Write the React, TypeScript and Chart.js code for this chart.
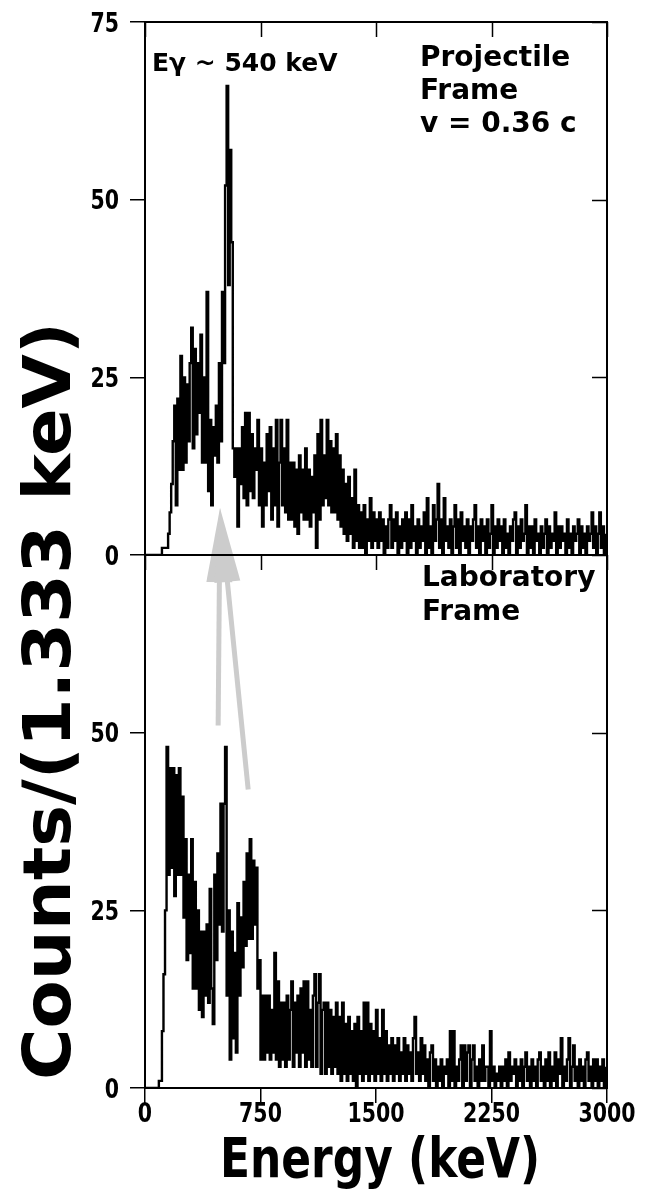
import React, { useEffect, useRef } from "react";
import { Chart, registerables } from "chart.js";

Chart.register(...registerables);

// ---------------- data ----------------
const BIN_KEV = 10; // spectrum sampled every 10 keV, starting at 0 keV
const X_TICKS = [0, 750, 1500, 2250, 3000];
const TOP_TICKS = [0, 25, 50, 75];
const BOT_TICKS = [0, 25, 50];

// Projectile frame (top panel), counts per bin, 0 .. 2990 keV
const projA = [
  0, 0, 0, 0, 0, 0, 0, 0, 0, 0,
  0, 1, 1, 1, 1, 3, 6, 10, 16, 21,
  7, 22, 12, 28, 12, 25, 13, 24, 16, 27,
  32, 15, 29, 17, 27, 20, 31, 13, 25, 13,
  37, 9, 19, 7, 18, 14, 21, 13, 27, 16,
];
const projB = [
  37, 27, 52, 66, 38, 57, 44, 15, 11, 15,
  4, 15, 10, 18, 8, 20, 7, 20, 9, 17,
  8, 15, 12, 19, 7, 15, 4, 13, 7, 17,
  9, 18, 5, 15, 7, 19, 4, 13, 19, 7,
  15, 6, 19, 5, 13, 5, 13, 4, 12, 3,
];
const projC = [
  14, 6, 12, 5, 15, 5, 12, 4, 11, 6,
  14, 1, 17, 5, 19, 7, 14, 8, 19, 7,
  16, 6, 15, 6, 17, 5, 14, 4, 12, 3,
  10, 2, 11, 3, 8, 1, 12, 2, 7, 1,
  6, 1, 7, 0, 5, 2, 8, 1, 6, 2,
];
const projD = [
  5, 1, 6, 2, 5, 0, 4, 1, 5, 7,
  1, 5, 2, 6, 0, 4, 1, 5, 2, 6,
  0, 5, 1, 7, 2, 4, 0, 5, 1, 4,
  2, 6, 0, 8, 1, 4, 0, 7, 2, 5,
  10, 1, 5, 0, 8, 2, 4, 1, 5, 0,
];
const projE = [
  4, 7, 1, 5, 0, 6, 2, 4, 1, 5,
  0, 4, 2, 5, 7, 1, 4, 0, 5, 2,
  4, 0, 5, 1, 3, 7, 0, 4, 1, 5,
  2, 4, 0, 5, 1, 3, 0, 4, 2, 5,
  6, 0, 4, 1, 5, 2, 3, 7, 0, 4,
];
const projF = [
  1, 4, 0, 5, 2, 3, 0, 4, 1, 3,
  5, 0, 4, 1, 3, 2, 6, 0, 4, 1,
  4, 2, 3, 0, 5, 1, 3, 0, 4, 2,
  3, 5, 0, 4, 1, 3, 0, 4, 2, 3,
  6, 1, 4, 0, 3, 6, 1, 4, 0, 3,
];

// Laboratory frame (bottom panel), counts per bin, 0 .. 2990 keV
const labA = [
  0, 0, 0, 0, 0, 0, 0, 0, 0, 1,
  1, 8, 16, 25, 48, 30, 45, 31, 45, 27,
  44, 30, 45, 30, 41, 24, 35, 18, 30, 19,
  35, 14, 29, 14, 25, 11, 22, 10, 22, 13,
  23, 12, 28, 14, 9, 30, 18, 33, 23, 40,
];
const labB = [
  22, 40, 48, 13, 25, 4, 22, 7, 19, 5,
  26, 13, 24, 17, 29, 20, 33, 21, 35, 21,
  32, 23, 31, 14, 18, 4, 13, 4, 13, 5,
  13, 4, 11, 5, 19, 4, 15, 3, 12, 4,
  12, 3, 13, 4, 11, 15, 3, 12, 5, 13,
];
const labC = [
  3, 14, 5, 15, 3, 15, 4, 11, 3, 13,
  16, 3, 12, 16, 2, 11, 12, 2, 12, 3,
  11, 2, 10, 3, 12, 2, 10, 1, 12, 2,
  9, 1, 10, 2, 8, 1, 9, 0, 10, 2,
  8, 1, 12, 2, 12, 1, 9, 2, 8, 1,
];
const labD = [
  11, 2, 7, 1, 11, 2, 8, 1, 6, 2,
  7, 1, 6, 2, 7, 1, 5, 2, 7, 1,
  6, 2, 5, 1, 7, 10, 2, 5, 1, 7,
  2, 6, 1, 4, 0, 5, 6, 1, 4, 0,
  3, 1, 4, 0, 3, 2, 4, 0, 8, 1,
];
const labE = [
  8, 0, 3, 1, 4, 6, 0, 6, 1, 5,
  6, 0, 4, 6, 1, 3, 0, 4, 1, 6,
  1, 3, 3, 0, 8, 1, 3, 0, 2, 1,
  3, 0, 3, 1, 4, 0, 5, 1, 3, 2,
  4, 0, 3, 1, 4, 0, 3, 5, 1, 3,
];
const labF = [
  0, 4, 1, 3, 0, 4, 5, 1, 3, 0,
  4, 1, 5, 0, 3, 1, 5, 0, 4, 2,
  7, 0, 3, 1, 4, 7, 0, 3, 6, 1,
  3, 0, 4, 1, 3, 0, 4, 5, 1, 3,
  0, 4, 1, 4, 0, 3, 1, 4, 0, 3,
];

// arrows: common tip in projectile panel, tails in laboratory panel (keV, counts)
const ARROW_TIP = { x: 487, y: 6.6 };
const ARROW_TAILS = [
  { x: 475, y: 51 },
  { x: 670, y: 42 },
];

const PEAK_LABEL = "E\u03b3 ~ 540 keV";
const PROJ_LABEL = ["Projectile", "Frame", "v = 0.36 c"];
const LAB_LABEL = ["Laboratory", "Frame"];
const X_TITLE = "Energy (keV)";
const Y_TITLE = "Counts/(1.333 keV)";

// ---------------- helpers ----------------
const FONT = '"DejaVu Sans", Verdana, sans-serif';
const projectile = [...projA, ...projB, ...projC, ...projD, ...projE, ...projF];
const laboratory = [...labA, ...labB, ...labC, ...labD, ...labE, ...labF];
const toPoints = (vals: number[]) => vals.map((v, i) => ({ x: i * BIN_KEV, y: v }));

const TICK_SIZE = 20.5;
const TICK_STRETCH = 1.3;
const CAP = 0.729;

function drawArrow(ctx: CanvasRenderingContext2D, x0: number, y0: number, x1: number, y1: number) {
  const headLen = 74;
  const half = 13;
  const ang = Math.atan2(y1 - y0, x1 - x0);
  const c = Math.cos(ang), s = Math.sin(ang);
  const bx = x1 - headLen * c, by = y1 - headLen * s;
  ctx.beginPath();
  ctx.moveTo(x0, y0);
  ctx.lineTo(x1 - (headLen - 10) * c, y1 - (headLen - 10) * s);
  ctx.stroke();
  ctx.beginPath();
  ctx.moveTo(x1, y1);
  ctx.lineTo(bx + half * s, by - half * c);
  ctx.lineTo(bx - half * s, by + half * c);
  ctx.closePath();
  ctx.fill();
}

function stretchedText(ctx: CanvasRenderingContext2D, text: string, x: number, y: number, sx: number, sy: number) {
  ctx.save();
  ctx.translate(x, y);
  ctx.scale(sx, sy);
  ctx.fillText(text, 0, 0);
  ctx.restore();
}

const panelPlugin = {
  id: "panelPlugin",
  beforeDatasetsDraw(chart: any) {
    const ctx: CanvasRenderingContext2D = chart.ctx;
    const xs = chart.scales.x, yt = chart.scales.yTop, yb = chart.scales.yBot;
    ctx.save();
    ctx.strokeStyle = "#cccccc";
    ctx.fillStyle = "#cccccc";
    ctx.lineWidth = 5;
    ctx.lineCap = "butt";
    const tx = xs.getPixelForValue(ARROW_TIP.x);
    const ty = yt.getPixelForValue(ARROW_TIP.y);
    ARROW_TAILS.forEach((t) => {
      drawArrow(ctx, xs.getPixelForValue(t.x), yb.getPixelForValue(t.y), tx, ty);
    });
    ctx.restore();
  },
  afterDraw(chart: any) {
    const ctx: CanvasRenderingContext2D = chart.ctx;
    const xs = chart.scales.x;
    const area = chart.chartArea;
    ctx.save();
    ctx.strokeStyle = "#000";
    ctx.fillStyle = "#000";
    // frames, inner ticks, tick labels
    ctx.font = `bold ${TICK_SIZE}px ${FONT}`;
    const capH = CAP * TICK_SIZE * TICK_STRETCH;
    ["yTop", "yBot"].forEach((id) => {
      const ys = chart.scales[id];
      ctx.lineWidth = 2;
      ctx.strokeRect(area.left, ys.top, area.right - area.left, ys.bottom - ys.top);
      ctx.lineWidth = 1.5;
      ctx.beginPath();
      xs.ticks.forEach((t: any) => {
        const px = Math.round(xs.getPixelForValue(t.value)) + 0.5;
        ctx.moveTo(px, ys.top);
        ctx.lineTo(px, ys.top + 15);
      });
      ys.ticks.forEach((t: any) => {
        const py = Math.round(ys.getPixelForValue(t.value)) + 0.5;
        ctx.moveTo(area.right - 15, py);
        ctx.lineTo(area.right, py);
      });
      ctx.stroke();
      ctx.textAlign = "right";
      ctx.textBaseline = "alphabetic";
      ys.ticks.forEach((t: any) => {
        const py = ys.getPixelForValue(t.value);
        stretchedText(ctx, String(t.value), area.left - 26, py + capH / 2, 1, TICK_STRETCH);
      });
    });
    ctx.textAlign = "center";
    xs.ticks.forEach((t: any) => {
      const px = xs.getPixelForValue(t.value);
      stretchedText(ctx, String(t.value), px, area.bottom + 15 + capH, 1, TICK_STRETCH);
    });

    // annotations
    const yt = chart.scales.yTop, yb = chart.scales.yBot;
    ctx.textAlign = "left";
    ctx.textBaseline = "alphabetic";
    ctx.font = `bold 25px ${FONT}`;
    ctx.fillText(PEAK_LABEL, area.left + 7, yt.top + 49);
    ctx.font = `bold 28px ${FONT}`;
    PROJ_LABEL.forEach((t, i) => ctx.fillText(t, area.left + 275, yt.top + 44 + i * 33));
    LAB_LABEL.forEach((t, i) => ctx.fillText(t, area.left + 277, yb.top + 31 + i * 34));

    // axis titles
    ctx.textAlign = "center";
    ctx.font = `bold 43px ${FONT}`;
    const xw = ctx.measureText(X_TITLE).width;
    stretchedText(ctx, X_TITLE, (area.left + area.right) / 2 + 4, 1177, 320 / xw, 1.3);
    ctx.save();
    ctx.translate(70, 701);
    ctx.rotate(-Math.PI / 2);
    ctx.font = `bold 66px ${FONT}`;
    const yw = ctx.measureText(Y_TITLE).width;
    ctx.scale(758 / yw, 1);
    ctx.fillText(Y_TITLE, 0, 0);
    ctx.restore();
    ctx.restore();
  },
};

const gridOpts = { drawOnChartArea: false, drawTicks: true, tickLength: 15, color: "#000", lineWidth: 1.5 };
const borderOpts = { display: true, color: "#000", width: 2 };

function yScale(ticks: number[]) {
  return {
    type: "linear" as const,
    position: "left" as const,
    stack: "panels",
    stackWeight: 1,
    min: 0,
    max: 75,
    afterBuildTicks: (s: any) => {
      s.ticks = ticks.map((v) => ({ value: v }));
    },
    afterFit: (s: any) => {
      s.width = 145;
    },
    ticks: { display: false },
    grid: gridOpts,
    border: borderOpts,
  };
}

export default function App() {
  const ref = useRef<HTMLCanvasElement | null>(null);
  useEffect(() => {
    if (!ref.current) return;
    const chart = new Chart(ref.current, {
      type: "line",
      data: {
        datasets: [
          {
            label: "Projectile frame",
            data: toPoints(projectile),
            xAxisID: "x",
            yAxisID: "yTop",
            borderColor: "#000",
            borderWidth: 2.4,
            pointRadius: 0,
            stepped: true,
            fill: false,
          },
          {
            label: "Laboratory frame",
            data: toPoints(laboratory),
            xAxisID: "x",
            yAxisID: "yBot",
            borderColor: "#000",
            borderWidth: 2.4,
            pointRadius: 0,
            stepped: true,
            fill: false,
          },
        ],
      },
      options: {
        responsive: false,
        animation: false,
        devicePixelRatio: 1,
        events: [],
        layout: { padding: { top: 22, right: 38, left: 0, bottom: 0 } },
        plugins: { legend: { display: false }, tooltip: { enabled: false } },
        scales: {
          x: {
            type: "linear",
            position: "bottom",
            min: 0,
            max: 3000,
            afterBuildTicks: (s: any) => {
              s.ticks = X_TICKS.map((v) => ({ value: v }));
            },
            afterFit: (s: any) => {
              s.height = 103;
            },
            ticks: { display: false },
            grid: gridOpts,
            border: borderOpts,
          },
          yBot: yScale(BOT_TICKS),
          yTop: yScale(TOP_TICKS),
        },
      },
      plugins: [panelPlugin],
    });
    return () => chart.destroy();
  }, []);
  return (
    <div style={{ position: "absolute", left: 0, top: 0, width: 645, height: 1191, background: "#fff" }}>
      <canvas ref={ref} width={645} height={1191} style={{ display: "block" }} />
    </div>
  );
}
